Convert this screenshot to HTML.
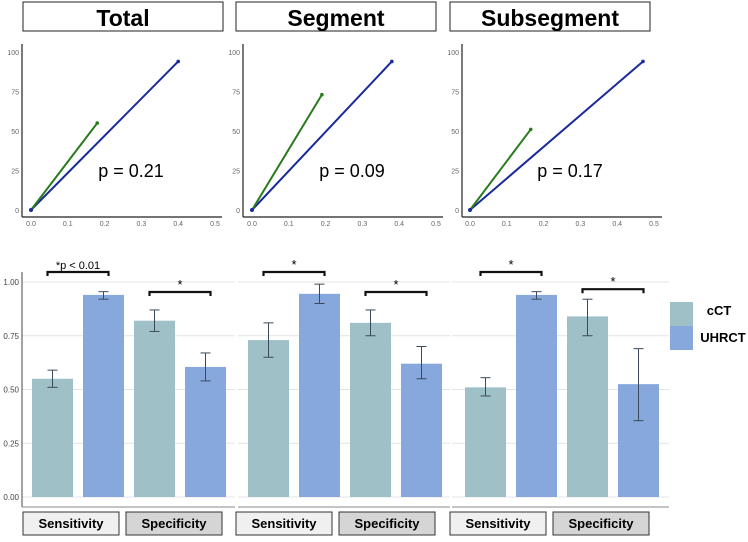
<!DOCTYPE html>
<html><head><meta charset="utf-8"><style>
body{margin:0;background:#fff;width:748px;height:537px;overflow:hidden;font-family:"Liberation Sans",sans-serif}
</style></head><body>
<svg id="c" width="748" height="537" xmlns="http://www.w3.org/2000/svg"></svg>
<script>
const panels=["Total","Segment","Subsegment"];
const pLabels=["p = 0.21","p = 0.09","p = 0.17"];
const greenX=[0.18,0.19,0.165];
const greenY=[55,73,51];
const blueX=[0.40,0.38,0.47];
const blueY=[94,94,94];
const metrics=["Sensitivity","Specificity"];
const cctVals=[[0.55,0.82],[0.73,0.81],[0.51,0.84]];
const cctLo=[[0.51,0.77],[0.65,0.75],[0.47,0.75]];
const cctHi=[[0.59,0.87],[0.81,0.87],[0.555,0.92]];
const uhVals=[[0.94,0.605],[0.945,0.62],[0.94,0.525]];
const uhLo=[[0.92,0.54],[0.90,0.55],[0.92,0.355]];
const uhHi=[[0.955,0.67],[0.99,0.70],[0.955,0.69]];
const sigLabels=[["*p < 0.01","*"],["*","*"],["*","*"]];
const yTicks=[0,0.25,0.5,0.75,1.0];
const yTickLabels=["0.00","0.25","0.50","0.75","1.00"];
const rocYTicks=[0,25,50,75,100];
const rocXTicks=[0,0.1,0.2,0.3,0.4,0.5];

const svg=document.getElementById('c');
const NS="http://www.w3.org/2000/svg";
function mk(t,a,p){const e=document.createElementNS(NS,t);for(const k in a)e.setAttribute(k,a[k]);(p||svg).appendChild(e);return e;}
function tx(s,a,p){const e=mk('text',a,p);e.textContent=s;return e;}

const topX0=[22,243,462], rocOrig=[31,252,470];
const titleX=[23,236,450];
const barX0=[32,248,465];
const axL=[22,238,452], axR=[235,450,669];
function ry(v){return 210-v*1.58;}
function rx(p,v){return rocOrig[p]+v*368;}
function by(v){return 497-v*215;}

panels.forEach((name,p)=>{
  const g=mk('g',{});
  
  
  const tb=mk('rect',{x:titleX[p],y:2,width:200,height:29,fill:'#fff',stroke:'#222','stroke-width':1},g);
  
  const tt=tx(name,{x:titleX[p]+100,y:26,'text-anchor':'middle','font-size':23,'font-weight':'bold'},g);
  
  const xa=topX0[p];
  mk('line',{x1:xa,y1:44,x2:xa,y2:217,stroke:'#222','stroke-width':1.2},g);
  mk('line',{x1:xa,y1:217,x2:xa+200,y2:217,stroke:'#222','stroke-width':1.2},g);
  rocYTicks.forEach(v=>{const t=tx(String(v),{x:xa-3,y:ry(v)+3,'text-anchor':'end','font-size':7,fill:'#666'},g);});
  rocXTicks.forEach(v=>{const t=tx(v.toFixed(1),{x:rx(p,v),y:226,'text-anchor':'middle','font-size':7,fill:'#666'},g);});
  const bl=mk('line',{x1:rx(p,0),y1:ry(0),x2:rx(p,blueX[p]),y2:ry(blueY[p]),stroke:'#1a2a9a','stroke-width':2},g);
  
  const gl=mk('line',{x1:rx(p,0),y1:ry(0),x2:rx(p,greenX[p]),y2:ry(greenY[p]),stroke:'#2a7a1e','stroke-width':2},g);
  
  mk('circle',{cx:rx(p,blueX[p]),cy:ry(blueY[p]),r:1.8,fill:'#1a2a9a'},g);
  mk('circle',{cx:rx(p,greenX[p]),cy:ry(greenY[p]),r:1.8,fill:'#2a7a1e'},g);
  mk('circle',{cx:rx(p,0),cy:ry(0),r:2,fill:'#1a2a9a'},g);
  const pl=tx(pLabels[p],{x:rocOrig[p]+100,y:177,'text-anchor':'middle','font-size':18},g);
  
  yTicks.forEach((v,i)=>{
    mk('line',{x1:axL[p],y1:by(v),x2:axR[p],y2:by(v),stroke:'#e4e4e4','stroke-width':1},g);
    if(p===0){const t=tx(yTickLabels[i],{x:19,y:by(v)+3,'text-anchor':'end','font-size':8,fill:'#444'},g);}
  });
  if(p===0) mk('line',{x1:22,y1:272,x2:22,y2:507,stroke:'#444','stroke-width':1},g);
  mk('line',{x1:axL[p],y1:507,x2:axR[p],y2:507,stroke:'#888','stroke-width':1},g);
  metrics.forEach((m,mi)=>{
    const xc=barX0[p]+mi*102, xu=xc+51;
    [[xc,cctVals,cctLo,cctHi,'#9fc0c6','cct'],[xu,uhVals,uhLo,uhHi,'#86a8dc','uhrct']].forEach(([x,V,L,H,col,nm])=>{
      const v=V[p][mi];
      const r=mk('rect',{x:x,y:by(v),width:41,height:by(0)-by(v),fill:col},g);
      
      const cx=x+20.5;
      mk('line',{x1:cx,y1:by(L[p][mi]),x2:cx,y2:by(H[p][mi]),stroke:'#3a4a5a','stroke-width':1},g);
      mk('line',{x1:cx-5,y1:by(L[p][mi]),x2:cx+5,y2:by(L[p][mi]),stroke:'#3a4a5a','stroke-width':1},g);
      mk('line',{x1:cx-5,y1:by(H[p][mi]),x2:cx+5,y2:by(H[p][mi]),stroke:'#3a4a5a','stroke-width':1},g);
    });
    const top=Math.max(cctHi[p][mi],uhHi[p][mi]);
    const yb=Math.min(by(top)-10, mi===0?272:292);
    const b1=xc+20.5-5, b2=xu+20.5+5;
    const br=mk('path',{d:`M${b1},${yb+4}V${yb}H${b2}V${yb+4}`,fill:'none',stroke:'#111','stroke-width':2.2},g);
    
    const sl=tx(sigLabels[p][mi],{x:(b1+b2)/2,y:yb-3,'text-anchor':'middle','font-size':sigLabels[p][mi].length>1?11:13},g);
    
    const sx=titleX[p]+mi*103;
    const sb=mk('rect',{x:sx,y:512,width:96,height:23,fill:mi===0?'#f0f0f0':'#d5d5d5',stroke:'#333','stroke-width':1},g);
    
    tx(m,{x:sx+48,y:528,'text-anchor':'middle','font-size':13,'font-weight':'bold'},g);
  });
});
const lg=mk('g',{});

const l1=mk('rect',{x:670,y:302,width:23,height:24,fill:'#9fc0c6'},lg);

const l2=mk('rect',{x:670,y:326,width:23,height:24,fill:'#86a8dc'},lg);

tx('cCT',{x:719,y:315,'text-anchor':'middle','font-size':13,'font-weight':'bold'},lg);
tx('UHRCT',{x:723,y:342,'text-anchor':'middle','font-size':13,'font-weight':'bold'},lg);
</script>
</body></html>
